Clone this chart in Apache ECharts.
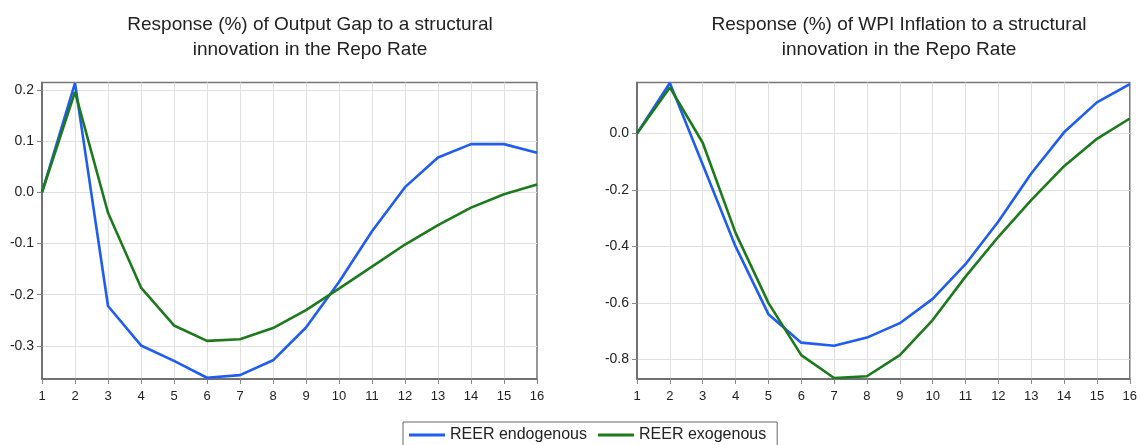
<!DOCTYPE html>
<html>
<head>
<meta charset="utf-8">
<script src="https://cdn.jsdelivr.net/npm/echarts@6/dist/echarts.min.js"></script>
<style>
  html, body { margin: 0; padding: 0; background: #fff; }
  #chart { width: 1140px; height: 445px; }
</style>
</head>
<body>
<div id="chart"></div>
<script>
// Impulse-response horizons
const periods = ['1','2','3','4','5','6','7','8','9','10','11','12','13','14','15','16'];

// Output gap response (%)
const gapEndogenous = [0.0, 0.213, -0.222, -0.299, -0.329, -0.362, -0.357, -0.328, -0.264, -0.175, -0.076, 0.010, 0.068, 0.094, 0.094, 0.077];
const gapExogenous  = [0.0, 0.196, -0.040, -0.186, -0.260, -0.290, -0.287, -0.265, -0.230, -0.188, -0.145, -0.102, -0.064, -0.030, -0.004, 0.015];

// WPI inflation response (%)
const wpiEndogenous = [0.0, 0.179, -0.110, -0.400, -0.640, -0.741, -0.752, -0.723, -0.672, -0.586, -0.463, -0.312, -0.142, 0.004, 0.110, 0.175];
const wpiExogenous  = [0.0, 0.163, -0.033, -0.352, -0.600, -0.785, -0.866, -0.860, -0.785, -0.661, -0.507, -0.366, -0.236, -0.116, -0.019, 0.053];

const seriesNames = ['REER endogenous', 'REER exogenous'];
const titles = [
  'Response (%) of Output Gap to a structural\ninnovation in the Repo Rate',
  'Response (%) of WPI Inflation to a structural\ninnovation in the Repo Rate'
];

const BLUE = '#1f5cf0';
const GREEN = '#1c7a1c';
const FONT = 'Liberation Sans, Arial, sans-serif';

function xAxisFor(idx) {
  return {
    type: 'category', gridIndex: idx, data: periods, boundaryGap: false,
    axisLine: { show: true, onZero: false, lineStyle: { color: '#666', width: 1.5 } },
    axisTick: { show: true, alignWithLabel: true, length: 5, lineStyle: { color: '#888' } },
    axisLabel: { color: '#222', fontSize: 13, fontFamily: FONT, margin: 11 },
    splitLine: { show: true, showMinLine: false, showMaxLine: false, lineStyle: { color: '#e0e0e0', width: 1 } }
  };
}

function yAxisFor(idx, min, max, split) {
  return {
    type: 'value', gridIndex: idx, min: min, max: max, splitNumber: split,
    axisLine: { show: true, onZero: false, lineStyle: { color: '#666', width: 1.5 } },
    axisTick: { show: true, length: 5, lineStyle: { color: '#888' } },
    axisLabel: {
      color: '#222', fontSize: 14, fontFamily: FONT, margin: 8,
      showMinLabel: false, showMaxLabel: false,
      formatter: v => v.toFixed(1)
    },
    splitLine: { show: true, showMinLine: false, showMaxLine: false, lineStyle: { color: '#e0e0e0', width: 1 } }
  };
}

function lineSeries(name, data, color, idx) {
  return {
    name: name, type: 'line', data: data,
    xAxisIndex: idx, yAxisIndex: idx,
    symbol: 'none', showSymbol: false, smooth: false,
    lineStyle: { color: color, width: 2.6 },
    itemStyle: { color: color },
    clip: false
  };
}

const chart = echarts.init(document.getElementById('chart'), null, { renderer: 'canvas' });
chart.setOption({
  backgroundColor: '#fff',
  animation: false,
  title: [
    { text: titles[0], left: 305, top: 7, textAlign: 'center',
      textStyle: { fontFamily: FONT, fontSize: 19, fontWeight: 'normal', color: '#222', lineHeight: 25, align: 'center' } },
    { text: titles[1], left: 894, top: 7, textAlign: 'center',
      textStyle: { fontFamily: FONT, fontSize: 19, fontWeight: 'normal', color: '#222', lineHeight: 25, align: 'center' } }
  ],
  legend: {
    data: seriesNames, left: 403, top: 422,
    itemWidth: 36, itemHeight: 3, itemGap: 11, icon: 'rect',
    padding: [5, 11, 8, 6],
    borderColor: '#666', borderWidth: 1,
    textStyle: { fontFamily: FONT, fontSize: 16, color: '#222' }
  },
  grid: [
    { left: 42, right: 603, top: 82.5, bottom: 66, show: true, borderColor: '#777', borderWidth: 1.5, backgroundColor: '#fff' },
    { left: 637, right: 8, top: 82.5, bottom: 66, show: true, borderColor: '#777', borderWidth: 1.5, backgroundColor: '#fff' }
  ],
  xAxis: [xAxisFor(0), xAxisFor(1)],
  yAxis: [yAxisFor(0, -0.3645, 0.2143, 6), yAxisFor(1, -0.8697, 0.1805, 5)],
  series: [
    lineSeries(seriesNames[0], gapEndogenous, BLUE, 0),
    lineSeries(seriesNames[1], gapExogenous, GREEN, 0),
    lineSeries(seriesNames[0], wpiEndogenous, BLUE, 1),
    lineSeries(seriesNames[1], wpiExogenous, GREEN, 1)
  ]
});
</script>
</body>
</html>
